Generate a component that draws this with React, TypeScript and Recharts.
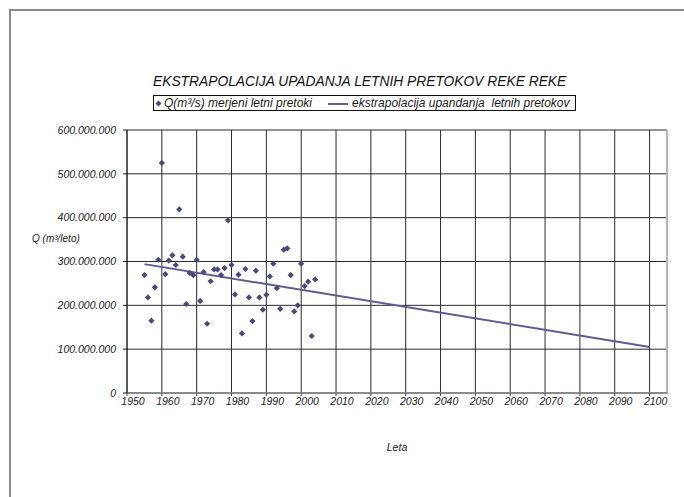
import React from 'react';
import { ScatterChart, Scatter, XAxis, YAxis, CartesianGrid, ReferenceLine, Legend } from 'recharts';

const years = [
  1955, 1956, 1957, 1958, 1959, 1960, 1961, 1962, 1963, 1964,
  1965, 1966, 1967, 1968, 1969, 1970, 1971, 1972, 1973, 1974,
  1975, 1976, 1977, 1978, 1979, 1980, 1981, 1982, 1983, 1984,
  1985, 1986, 1987, 1988, 1989, 1990, 1991, 1992, 1993, 1994,
  1995, 1996, 1997, 1998, 1999, 2000, 2001, 2002, 2003, 2004,
];
const flows = [
  269000000, 218000000, 165000000, 241000000, 304000000, 525000000, 271000000, 302000000, 314000000, 292000000,
  419000000, 311000000, 203000000, 274000000, 269000000, 304000000, 210000000, 276000000, 158000000, 255000000,
  282000000, 282000000, 269000000, 285000000, 394000000, 292000000, 225000000, 270000000, 136000000, 283000000,
  218000000, 164000000, 279000000, 218000000, 190000000, 224000000, 266000000, 295000000, 239000000, 192000000,
  327000000, 330000000, 269000000, 186000000, 200000000, 295000000, 244000000, 254000000, 130000000, 259000000,
];
const trendYears = [1955, 2100];
const trendValues = [294000000, 105000000];

const xTicks = [1950, 1960, 1970, 1980, 1990, 2000, 2010, 2020, 2030, 2040, 2050, 2060, 2070, 2080, 2090, 2100];
const yTicks = [0, 100000000, 200000000, 300000000, 400000000, 500000000, 600000000];

const titleText = 'EKSTRAPOLACIJA UPADANJA LETNIH PRETOKOV REKE REKE';
const seriesName = 'Q(m³/s) merjeni letni pretoki';
const trendName = 'ekstrapolacija upandanja  letnih pretokov';
const yTitle = 'Q (m³/leto)';
const xTitle = 'Leta';

const pointData = years.map((x, i) => ({ x, y: flows[i] }));
const trendData = trendYears.map((x, i) => ({ x, y: trendValues[i] }));

const FONT = '"Liberation Sans", Arial, Helvetica, sans-serif';
const MARKER = '#4a497c';
const LINE = '#5e5d92';

const fmt = (v: number) => String(v).replace(/\B(?=(\d{3})+(?!\d))/g, '.');

const XTick = (props: any) => {
  const { x, y, payload } = props;
  return (
    <text x={x + 6} y={y} dy="0.71em" textAnchor="middle" fontFamily={FONT} fontStyle="italic" fontSize={10.5} fill="#1a1a1a">
      {payload.value}
    </text>
  );
};

const YTick = (props: any) => {
  const { x, y, payload } = props;
  return (
    <text x={x} y={y} dy="0.355em" textAnchor="end" fontFamily={FONT} fontStyle="italic" fontSize={10.5} fill="#1a1a1a">
      {fmt(payload.value)}
    </text>
  );
};

const Diamond = (props: any) => {
  const { cx, cy } = props;
  if (cx == null || cy == null) return <g />;
  const r = 3.1;
  return <polygon points={`${cx},${cy - r} ${cx + r},${cy} ${cx},${cy + r} ${cx - r},${cy}`} fill={MARKER} />;
};

const NoShape = () => <g />;

const LegendBox = () => (
  <div
    style={{
      border: '1px solid #111',
      padding: '1px 5px 0px 1px',
      fontFamily: FONT,
      fontStyle: 'italic',
      fontSize: 12,
      lineHeight: '13px',
      color: '#1a1a1a',
      whiteSpace: 'pre',
      display: 'flex',
      alignItems: 'center',
      background: '#fff',
    }}
  >
    <svg width={7} height={7} style={{ marginRight: 2 }}>
      <polygon points="3.5,0.5 6.5,3.5 3.5,6.5 0.5,3.5" fill={MARKER} />
    </svg>
    <span>{seriesName}</span>
    <svg width={20} height={8} style={{ marginLeft: 16, marginRight: 4 }}>
      <line x1={0} y1={4} x2={20} y2={4} stroke={LINE} strokeWidth={2} />
    </svg>
    <span>{trendName}</span>
  </div>
);

export default function App() {
  return (
    <div style={{ position: 'absolute', left: 0, top: 0, width: 684, height: 497, overflow: 'hidden', background: '#fff' }}>
      <svg width={684} height={497} style={{ position: 'absolute', left: 0, top: 0 }}>
        <rect x={10} y={10} width={2000} height={2000} fill="none" stroke="#8a8a8a" strokeWidth={2} />
        <text x={153} y={85.5} fontFamily={FONT} fontStyle="italic" fontSize={13.8} fill="#111">{titleText}</text>
        <text x={32} y={241.5} fontFamily={FONT} fontStyle="italic" fontSize={10} fill="#1a1a1a">{yTitle}</text>
        <text x={397} y={451} textAnchor="middle" fontFamily={FONT} fontStyle="italic" fontSize={10.5} fill="#1a1a1a">{xTitle}</text>
      </svg>
      <div style={{ position: 'absolute', left: 0, top: 0 }}>
        <ScatterChart width={684} height={497} margin={{ top: 130, right: 17, bottom: 74, left: 0 }}>
          <CartesianGrid stroke="#2a2a2a" strokeWidth={1} />
          <XAxis
            type="number"
            dataKey="x"
            domain={[1950, 2105]}
            ticks={xTicks}
            interval={0}
            allowDataOverflow
            height={30}
            tickSize={3}
            tickMargin={2}
            tick={<XTick />}
            axisLine={{ stroke: '#8a8a8a', strokeWidth: 2 }}
            tickLine={{ stroke: '#444' }}
          />
          <YAxis
            type="number"
            dataKey="y"
            domain={[0, 600000000]}
            ticks={yTicks}
            interval={0}
            width={127}
            tickSize={4}
            tickMargin={7}
            tick={<YTick />}
            axisLine={{ stroke: '#1a1a1a' }}
            tickLine={{ stroke: '#1a1a1a' }}
          />
          <ReferenceLine x={2105} stroke="#b5b5b5" strokeWidth={2} />
          <Legend
            layout="vertical"
            align="center"
            verticalAlign="middle"
            content={<LegendBox />}
            wrapperStyle={{ position: 'absolute', left: 153, top: 95, width: 'auto' }}
          />
          <Scatter
            name={trendName}
            data={trendData}
            line={{ stroke: LINE, strokeWidth: 2 }}
            shape={<NoShape />}
            isAnimationActive={false}
            legendType="none"
          />
          <Scatter name={seriesName} data={pointData} shape={<Diamond />} isAnimationActive={false} />
        </ScatterChart>
      </div>
    </div>
  );
}
